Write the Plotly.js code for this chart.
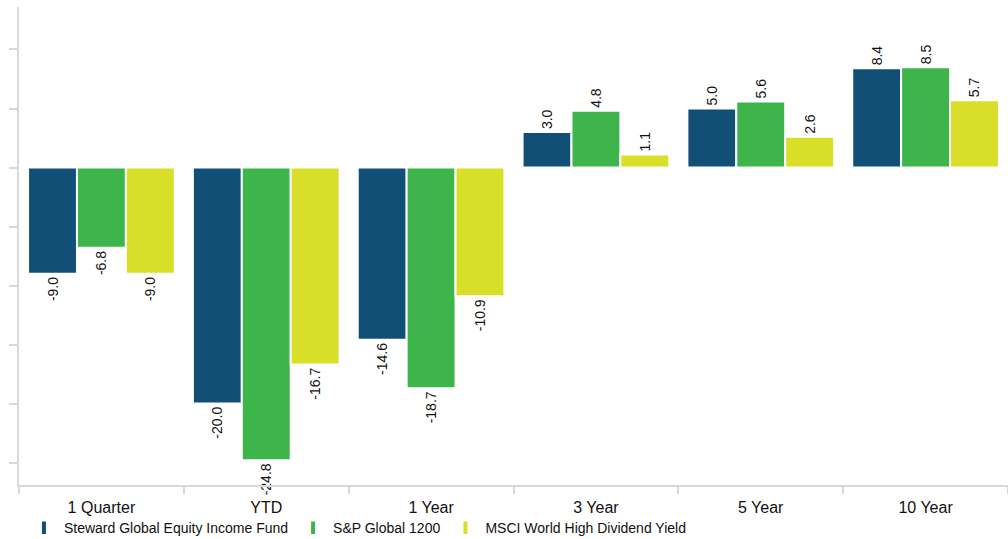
<!DOCTYPE html>
<html>
<head>
<meta charset="utf-8">
<script src="https://cdn.plot.ly/plotly-3.0.1.min.js"></script>
<style>
html,body{margin:0;padding:0;background:#fff;}
#chart{width:1008px;height:539px;}
</style>
</head>
<body>
<div id="chart"></div>
<script>
var categories = ["1 Quarter", "YTD", "1 Year", "3 Year", "5 Year", "10 Year"];
var seriesNames = ["Steward Global Equity Income Fund", "S&P Global 1200", "MSCI World High Dividend Yield"];
var stewardValues = [-9.0, -20.0, -14.6, 3.0, 5.0, 8.4];
var spGlobalValues = [-6.8, -24.8, -18.7, 4.8, 5.6, 8.5];
var msciValues = [-9.0, -16.7, -10.9, 1.1, 2.6, 5.7];
var colors = ["#114f77", "#3db54b", "#d9df28"];

var FONT = "Liberation Sans, Arial, sans-serif";
var allValues = [stewardValues, spGlobalValues, msciValues];
var traces = allValues.map(function (vals, i) {
  return {
    type: "bar",
    name: seriesNames[i],
    x: categories,
    y: vals,
    showlegend: false,
    marker: {color: colors[i], line: {color: "#ffffff", width: 2}},
    text: vals.map(function (v) { return v.toFixed(1); }),
    textposition: "outside",
    textangle: -90,
    cliponaxis: false,
    textfont: {family: FONT, size: 14, color: "#111"},
    hoverinfo: "x+y+name"
  };
});
// legend entries drawn as narrow vertical markers
seriesNames.forEach(function (n, i) {
  traces.push({
    type: "scatter",
    mode: "markers",
    name: n,
    x: [categories[0]],
    y: [null],
    marker: {symbol: "line-ns-open", size: 9, color: colors[i], line: {color: colors[i], width: 4}},
    showlegend: true,
    hoverinfo: "skip"
  });
});

var layout = {
  width: 1008,
  height: 539,
  margin: {l: 19, r: 0, t: 7, b: 54, autoexpand: false},
  paper_bgcolor: "#fff",
  plot_bgcolor: "#fff",
  barmode: "group",
  bargap: 0.11,
  bargroupgap: 0,
  showlegend: true,
  legend: {
    orientation: "h",
    x: 0.005, xref: "paper",
    y: 0.02, yref: "container",
    xanchor: "left", yanchor: "middle",
    bgcolor: "rgba(0,0,0,0)",
    font: {family: FONT, size: 14, color: "#111"},
    itemwidth: 30,
    traceorder: "normal"
  },
  xaxis: {
    type: "category",
    showline: true,
    linecolor: "#d9d9d9",
    linewidth: 2,
    ticks: "outside",
    tickson: "boundaries",
    ticklen: 7,
    tickcolor: "#d9d9d9",
    tickwidth: 2,
    ticklabelstandoff: 7,
    showgrid: false,
    zeroline: false,
    tickfont: {family: FONT, size: 16, color: "#111"}
  },
  yaxis: {
    range: [-26.9, 13.6],
    dtick: 5,
    tick0: 0,
    showline: true,
    linecolor: "#d9d9d9",
    linewidth: 2,
    ticks: "outside",
    ticklen: 8,
    tickcolor: "#d9d9d9",
    tickwidth: 2,
    showticklabels: false,
    showgrid: false,
    zeroline: false
  }
};

Plotly.newPlot("chart", traces, layout, {displayModeBar: false, staticPlot: true});
</script>
</body>
</html>
